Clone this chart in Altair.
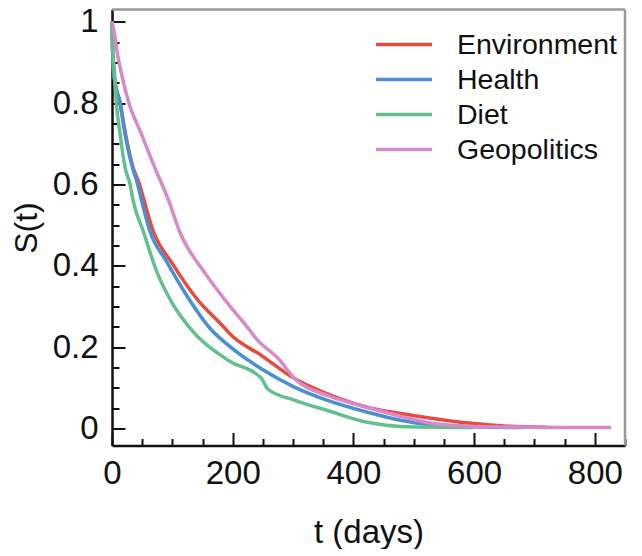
import altair as alt
import pandas as pd

# ---- data ----
series_names = ["Environment", "Health", "Diet", "Geopolitics"]
series_colors = ["#e84a3c", "#4a8fd6", "#63c08e", "#d68acb"]

t_env = [0, 2, 5.5, 13, 22.5, 35, 43.5, 68, 100.6, 138.8, 187.7, 193, 248, 303, 357, 423, 499, 600, 650, 720]
s_env = [1.0, 0.887, 0.846, 0.805, 0.723, 0.641, 0.609, 0.486, 0.404, 0.322, 0.245, 0.236, 0.179, 0.122, 0.085, 0.052, 0.032, 0.012, 0.006, 0.003]

t_health = [0, 2, 5.4, 12.4, 21.7, 34, 40.8, 49, 62.5, 89.8, 122.4, 163, 193, 248, 303, 357, 423, 478, 521, 600, 680]
s_health = [1.0, 0.887, 0.846, 0.805, 0.723, 0.641, 0.609, 0.56, 0.486, 0.412, 0.33, 0.245, 0.204, 0.146, 0.101, 0.069, 0.04, 0.02, 0.01, 0.004, 0.002]

t_diet = [0, 1, 3.7, 7, 13.5, 21.7, 30, 35, 51.6, 73.5, 100.6, 127.8, 193, 248, 258, 303, 357, 423, 478, 600]
s_diet = [1.0, 0.93, 0.887, 0.805, 0.723, 0.641, 0.6, 0.56, 0.486, 0.388, 0.306, 0.249, 0.167, 0.122, 0.097, 0.069, 0.044, 0.015, 0.005, 0.002]

t_geo = [0, 4, 8, 13.5, 27, 49, 71, 94, 111.5, 155, 193, 229, 237, 276, 303, 357, 423, 483, 532, 600, 700, 827]
s_geo = [1.0, 0.97, 0.93, 0.887, 0.805, 0.723, 0.641, 0.56, 0.486, 0.38, 0.305, 0.24, 0.224, 0.171, 0.122, 0.081, 0.052, 0.028, 0.012, 0.005, 0.003, 0.002]

x_major = [0, 200, 400, 600, 800]
x_minor = [50, 100, 150, 250, 300, 350, 450, 500, 550, 650, 700, 750, 850]
y_major = [0, 0.2, 0.4, 0.6, 0.8, 1.0]
y_minor = [0.05, 0.1, 0.15, 0.25, 0.3, 0.35, 0.45, 0.5, 0.55, 0.65, 0.7, 0.75, 0.85, 0.9, 0.95]

x_domain = [0, 850]
y_domain = [-0.042, 1.030]

rows = []
for order, (name, ts, ss) in enumerate(zip(series_names, [t_env, t_health, t_diet, t_geo],
                                           [s_env, s_health, s_diet, s_geo])):
    for t, s in zip(ts, ss):
        rows.append({"series": name, "t": t, "S": s, "ord": order})
df = pd.DataFrame(rows)

FONT = "Liberation Sans"
xscale = alt.Scale(domain=x_domain, nice=False, zero=False)
yscale = alt.Scale(domain=y_domain, nice=False, zero=False)

lines = alt.Chart(df).mark_line(strokeWidth=3.5, interpolate="monotone").encode(
    x=alt.X("t:Q", scale=xscale,
            axis=alt.Axis(orient="bottom", title="t (days)", values=x_major, ticks=False, tickSize=0,
                          labelFontSize=33, labelPadding=12, labelFlush=False, labelColor="#111",
                          titleFontSize=33, titleFontWeight="normal", titlePadding=26, titleColor="#111",
                          domainColor="#111", domainWidth=2.5, grid=False)),
    y=alt.Y("S:Q", scale=yscale,
            axis=alt.Axis(orient="left", title="S(t)", values=y_major, format="~g", ticks=False, tickSize=0,
                          labelFontSize=33, labelPadding=14, labelColor="#111",
                          titleFontSize=32, titleFontWeight="normal", titlePadding=9, titleColor="#111",
                          domainColor="#111", domainWidth=2.5, grid=False)),
    color=alt.Color("series:N", scale=alt.Scale(domain=series_names, range=series_colors),
                    legend=alt.Legend(title=None, orient="none", legendX=276, legendY=19,
                                      symbolType="M-2,0L2,0", symbolSize=784, symbolStrokeWidth=3.5,
                                      symbolFillColor="transparent",
                                      labelFontSize=28.5, labelFont=FONT, labelOffset=37, labelColor="#111",
                                      rowPadding=4, padding=0)),
    detail="ord:O",
    order="t:Q",
)

dummy = pd.DataFrame({"t": [0], "S": [0]})


def tick_layer(size, xv, yv):
    return alt.Chart(dummy).mark_point(opacity=0).encode(
        x=alt.X("t:Q", scale=xscale,
                axis=alt.Axis(orient="bottom", values=xv, labels=False, domain=False, grid=False,
                              ticks=True, tickSize=size, tickWidth=2, tickColor="#111",
                              offset=-size, title=None)),
        y=alt.Y("S:Q", scale=yscale,
                axis=alt.Axis(orient="left", values=yv, labels=False, domain=False, grid=False,
                              ticks=True, tickSize=size, tickWidth=2, tickColor="#111",
                              offset=-size, title=None)),
    )


# top and right border of the frame
frame_top = alt.Chart(dummy).mark_rule(color="#999", strokeWidth=2.5).encode(
    x=alt.datum(x_domain[0], scale=xscale, axis=None),
    x2=alt.datum(x_domain[1]),
    y=alt.datum(y_domain[1], scale=yscale, axis=None),
)
frame_right = alt.Chart(dummy).mark_rule(color="#999", strokeWidth=2.5).encode(
    x=alt.datum(x_domain[1], scale=xscale, axis=None),
    y=alt.datum(y_domain[0], scale=yscale, axis=None),
    y2=alt.datum(y_domain[1]),
)

chart = alt.layer(frame_top, frame_right, lines, tick_layer(13, x_major, y_major),
                  tick_layer(7, x_minor, y_minor)).resolve_axis(
    x="independent", y="independent"
).properties(
    width=513, height=436,
    autosize=alt.AutoSizeParams(type="none"),
    padding={"left": 104, "top": 1.5, "right": 2, "bottom": 103},
).configure(font=FONT).configure_view(stroke=None)

chart.save("out.html", embed_options={"renderer": "svg", "actions": False})
